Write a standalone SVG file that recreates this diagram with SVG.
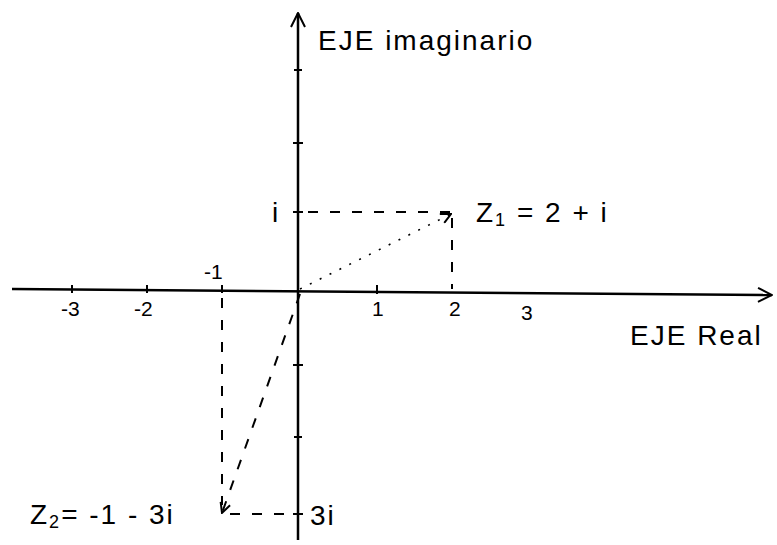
<svg xmlns="http://www.w3.org/2000/svg" width="777" height="545" viewBox="0 0 777 545">
<style>
.axis{stroke:#000;stroke-width:2.5;fill:none}
.tick{stroke:#000;stroke-width:2;fill:none}
.dash{stroke:#000;stroke-width:2;fill:none;stroke-dasharray:10 12}
.dot{stroke:#000;stroke-width:1.6;fill:none;stroke-dasharray:2 9}
.lbl{font-family:"Liberation Sans",Arial,sans-serif;font-size:21px;fill:#000}
.big{font-family:"Liberation Sans",Arial,sans-serif;font-size:28px;fill:#000;letter-spacing:2px}
</style>
<defs>
<marker id="ah" viewBox="0 0 12 12" refX="11" refY="6" markerWidth="12" markerHeight="12" markerUnits="userSpaceOnUse" orient="auto">
<path d="M1,1 L11,6 L1,11" fill="none" stroke="#000" stroke-width="2"/>
</marker>
<marker id="ax" viewBox="0 0 16 16" refX="15" refY="8" markerWidth="16" markerHeight="16" markerUnits="userSpaceOnUse" orient="auto">
<path d="M1,1 L15,8 L1,15" fill="none" stroke="#000" stroke-width="2"/>
</marker>
</defs>
<g id="axes">
<line class="axis" x1="12" y1="289" x2="772" y2="295" marker-end="url(#ax)"/>
<line class="axis" x1="298" y1="540" x2="298" y2="13" marker-end="url(#ax)"/>
<g class="tick">
<line x1="72" y1="285" x2="72" y2="293"/>
<line x1="147" y1="285" x2="147" y2="293"/>
<line x1="222" y1="285" x2="222" y2="293"/>
<line x1="377" y1="285" x2="377" y2="294"/>
<line x1="294" y1="70" x2="302" y2="70"/>
<line x1="293" y1="143" x2="303" y2="143"/>
<line x1="293" y1="212" x2="303" y2="212"/>
<line x1="293" y1="365" x2="303" y2="365"/>
<line x1="294" y1="437" x2="302" y2="437"/>
<line x1="293" y1="514" x2="303" y2="514"/>
</g>
</g>
<g id="labels">
<text class="lbl" x="61" y="316">-3</text>
<text class="lbl" x="134" y="316">-2</text>
<text class="lbl" x="204" y="279">-1</text>
<text class="lbl" x="372" y="316">1</text>
<text class="lbl" x="449" y="316">2</text>
<text class="lbl" x="521" y="320">3</text>
<text class="big" x="272" y="222">i</text>
<text class="big" x="310" y="525">3i</text>
<text class="big" x="318" y="50" font-size="30" letter-spacing="3">EJE imaginario</text>
<text class="big" x="630" y="345" letter-spacing="3">EJE Real</text>
</g>
<g id="z1">
<text class="big" x="476" y="222" letter-spacing="3">Z<tspan font-size="18" dy="4">1</tspan><tspan dy="-4"> = 2 + i</tspan></text>
</g>
<g id="z2">
<text class="big" x="30" y="524" letter-spacing="3">Z<tspan font-size="18" dy="4">2</tspan><tspan dy="-4">= -1 - 3i</tspan></text>
</g>
<g id="connectors">
<line class="dash" x1="308" y1="212" x2="452" y2="212"/>
<line class="dash" x1="452" y1="218" x2="452" y2="289"/>
<line class="dot" x1="300" y1="289" x2="451" y2="214" marker-end="url(#ah)"/>
<line class="dash" x1="222" y1="298" x2="222" y2="505"/>
<line class="dash" x1="230" y1="514" x2="296" y2="514"/>
<line class="dash" x1="300" y1="294" x2="222" y2="513" marker-end="url(#ah)"/>
</g>
</svg>
